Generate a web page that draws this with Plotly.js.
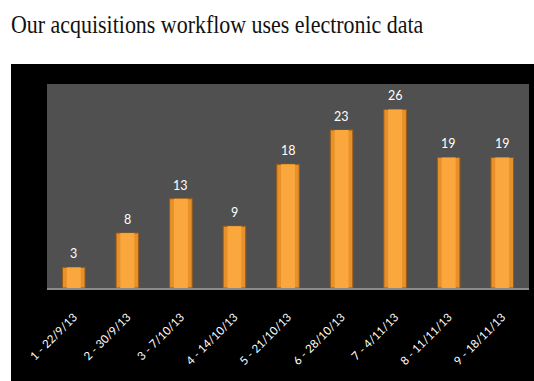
<!DOCTYPE html>
<html>
<head>
<meta charset="utf-8">
<script src="https://cdn.plot.ly/plotly-3.0.1.min.js"></script>
<style>
  html, body { margin: 0; padding: 0; background: #fff; width: 534px; height: 381px; overflow: hidden; }
  #head { position: absolute; left: 11px; top: 12px; font-family: "Liberation Serif", serif; font-size: 25.5px; line-height: 26px; color: #111; white-space: nowrap; transform: scaleX(0.86); transform-origin: 0 0; }
  #box { position: absolute; left: 11px; top: 64px; width: 523px; height: 317px; background: #000; overflow: hidden; }
  #chart { width: 523px; height: 317px; }
</style>
</head>
<body>
<div id="head">Our acquisitions workflow uses electronic data</div>
<div id="box"><div id="chart"></div></div>
<script>
const weeks = ["1 - 22/9/13", "2 - 30/9/13", "3 - 7/10/13", "4 - 14/10/13", "5 - 21/10/13", "6 - 28/10/13", "7 - 4/11/13", "8 - 11/11/13", "9 - 18/11/13"];
const counts = [3, 8, 13, 9, 18, 23, 26, 19, 19];

const outer = {
  type: "bar", x: weeks, y: counts, width: 0.42,
  marker: { color: "#E8912A", line: { color: "#9A5C16", width: 1 } },
  hoverinfo: "none"
};
const inner = {
  type: "bar", x: weeks, y: counts, width: 0.26,
  marker: { color: "#FAA83E", line: { width: 0 } },
  hoverinfo: "none"
};

const annotations = weeks.map((w, i) => ({
  x: w, y: counts[i], xref: "x", yref: "y",
  text: String(counts[i]), showarrow: false,
  yanchor: "bottom", yshift: 4,
  font: { color: "#ffffff", size: 12.5, family: "Lato, sans-serif" }
}));

const layout = {
  width: 523, height: 317,
  margin: { l: 36, r: 5, t: 20, b: 93 },
  paper_bgcolor: "#000000",
  plot_bgcolor: "#505050",
  barmode: "overlay",
  showlegend: false,
  xaxis: {
    type: "category",
    tickangle: -45,
    tickfont: { color: "#ffffff", size: 11.5, family: "Lato, sans-serif" },
    showline: true, linecolor: "#8a8a8a", linewidth: 2,
    ticks: "", showgrid: false, zeroline: false,
    ticklabelstandoff: 16
  },
  yaxis: {
    range: [0, 29.7],
    showticklabels: false, showgrid: false, zeroline: false, showline: false, ticks: ""
  },
  annotations: annotations
};

Plotly.newPlot("chart", [outer, inner], layout, { displayModeBar: false, staticPlot: true });
</script>
</body>
</html>
